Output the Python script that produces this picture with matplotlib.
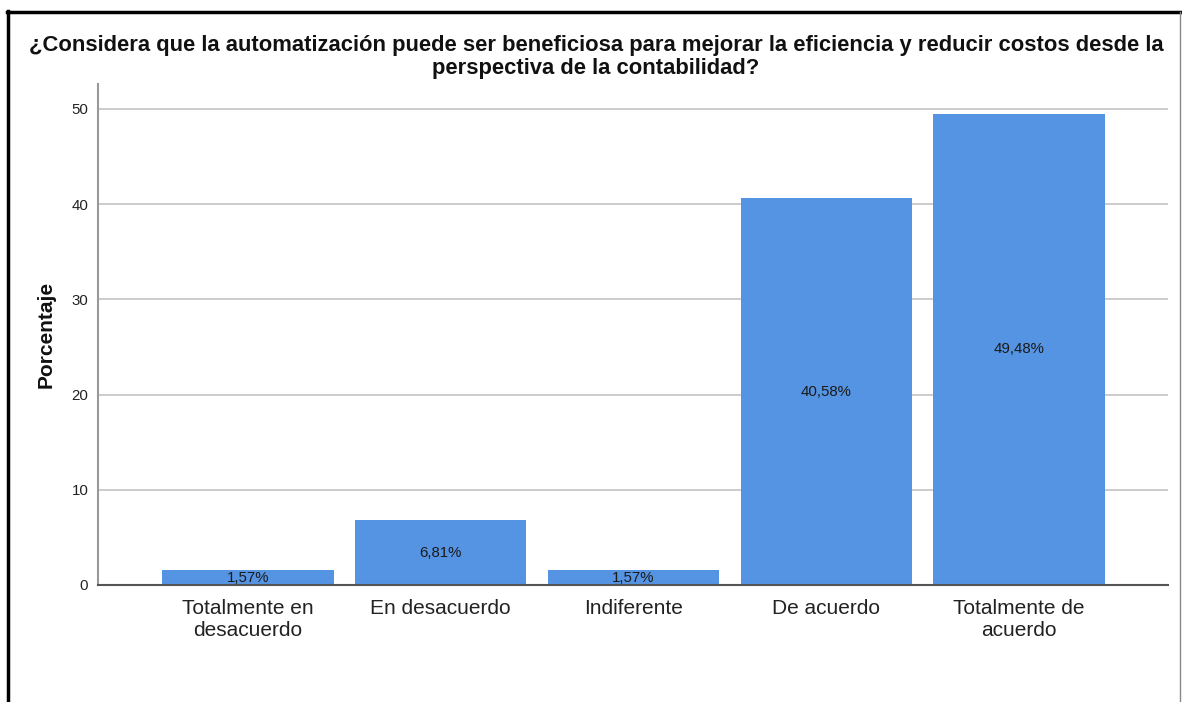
import matplotlib
matplotlib.use("Agg")
import matplotlib.pyplot as plt
from matplotlib.lines import Line2D

plt.rcParams['font.family'] = ['Liberation Sans', 'DejaVu Sans']

categories = ["Totalmente en\ndesacuerdo", "En desacuerdo", "Indiferente",
              "De acuerdo", "Totalmente de\nacuerdo"]
percentages = [1.57, 6.81, 1.57, 40.58, 49.48]
yticks = [0, 10, 20, 30, 40, 50]
title = ("¿Considera que la automatización puede ser beneficiosa para mejorar la eficiencia y reducir costos desde la\n"
         "perspectiva de la contabilidad?")

W, H = 1182, 702
fig = plt.figure(figsize=(W / 100, H / 100), dpi=100)
fig.patch.set_facecolor("white")

ax = fig.add_axes([98 / W, 1 - 585 / H, (1168 - 98) / W, (585 - 84) / H])
x = list(range(len(categories)))
bars = ax.bar(x, percentages, width=0.89, color="#5594E3", zorder=2)

for xi, v in zip(x, percentages):
    ax.text(xi, v / 2, f"{v:.2f}%".replace(".", ","), ha="center", va="center",
            fontsize=10.8, color="#1a1a1a", zorder=3)

ax.set_xlim(-0.777, 4.772)
ax.set_ylim(0, 52.6)
ax.set_yticks(yticks)
ax.set_yticklabels([str(t) for t in yticks], fontsize=10.8, color="#222222")
ax.set_xticks(x)
ax.set_xticklabels(categories, fontsize=15, color="#222222", linespacing=1.2)
ax.tick_params(axis="x", length=0, pad=10)
ax.tick_params(axis="y", length=0, pad=7)
ax.yaxis.grid(True, color="#c4c4c4", linewidth=1.2, zorder=1)
ax.set_axisbelow(True)

for s in ("top", "right"):
    ax.spines[s].set_visible(False)
ax.spines["left"].set_color("#999999")
ax.spines["left"].set_linewidth(1.5)
ax.spines["bottom"].set_color("#555555")
ax.spines["bottom"].set_linewidth(1.5)

fig.text(46 / W, 1 - 334 / H, "Porcentaje", rotation=90, ha="center", va="center",
         fontsize=15, fontweight="bold", color="#111111")

fig.text(596 / W, 1 - 57 / H, title, ha="center", va="center", fontsize=15.8,
         fontweight="bold", linespacing=1.07, color="#111111")

# frame around the chart
fig.add_artist(Line2D([8 / W, 8 / W], [0, 1 - 11 / H], color="black", linewidth=2.5))
fig.add_artist(Line2D([7 / W, 1], [1 - 12 / H, 1 - 12 / H], color="black", linewidth=2.5))
fig.add_artist(Line2D([1180 / W, 1180 / W], [0, 1 - 12 / H], color="#888888", linewidth=1.0))

fig.savefig("out.png", dpi=100, facecolor="white")
